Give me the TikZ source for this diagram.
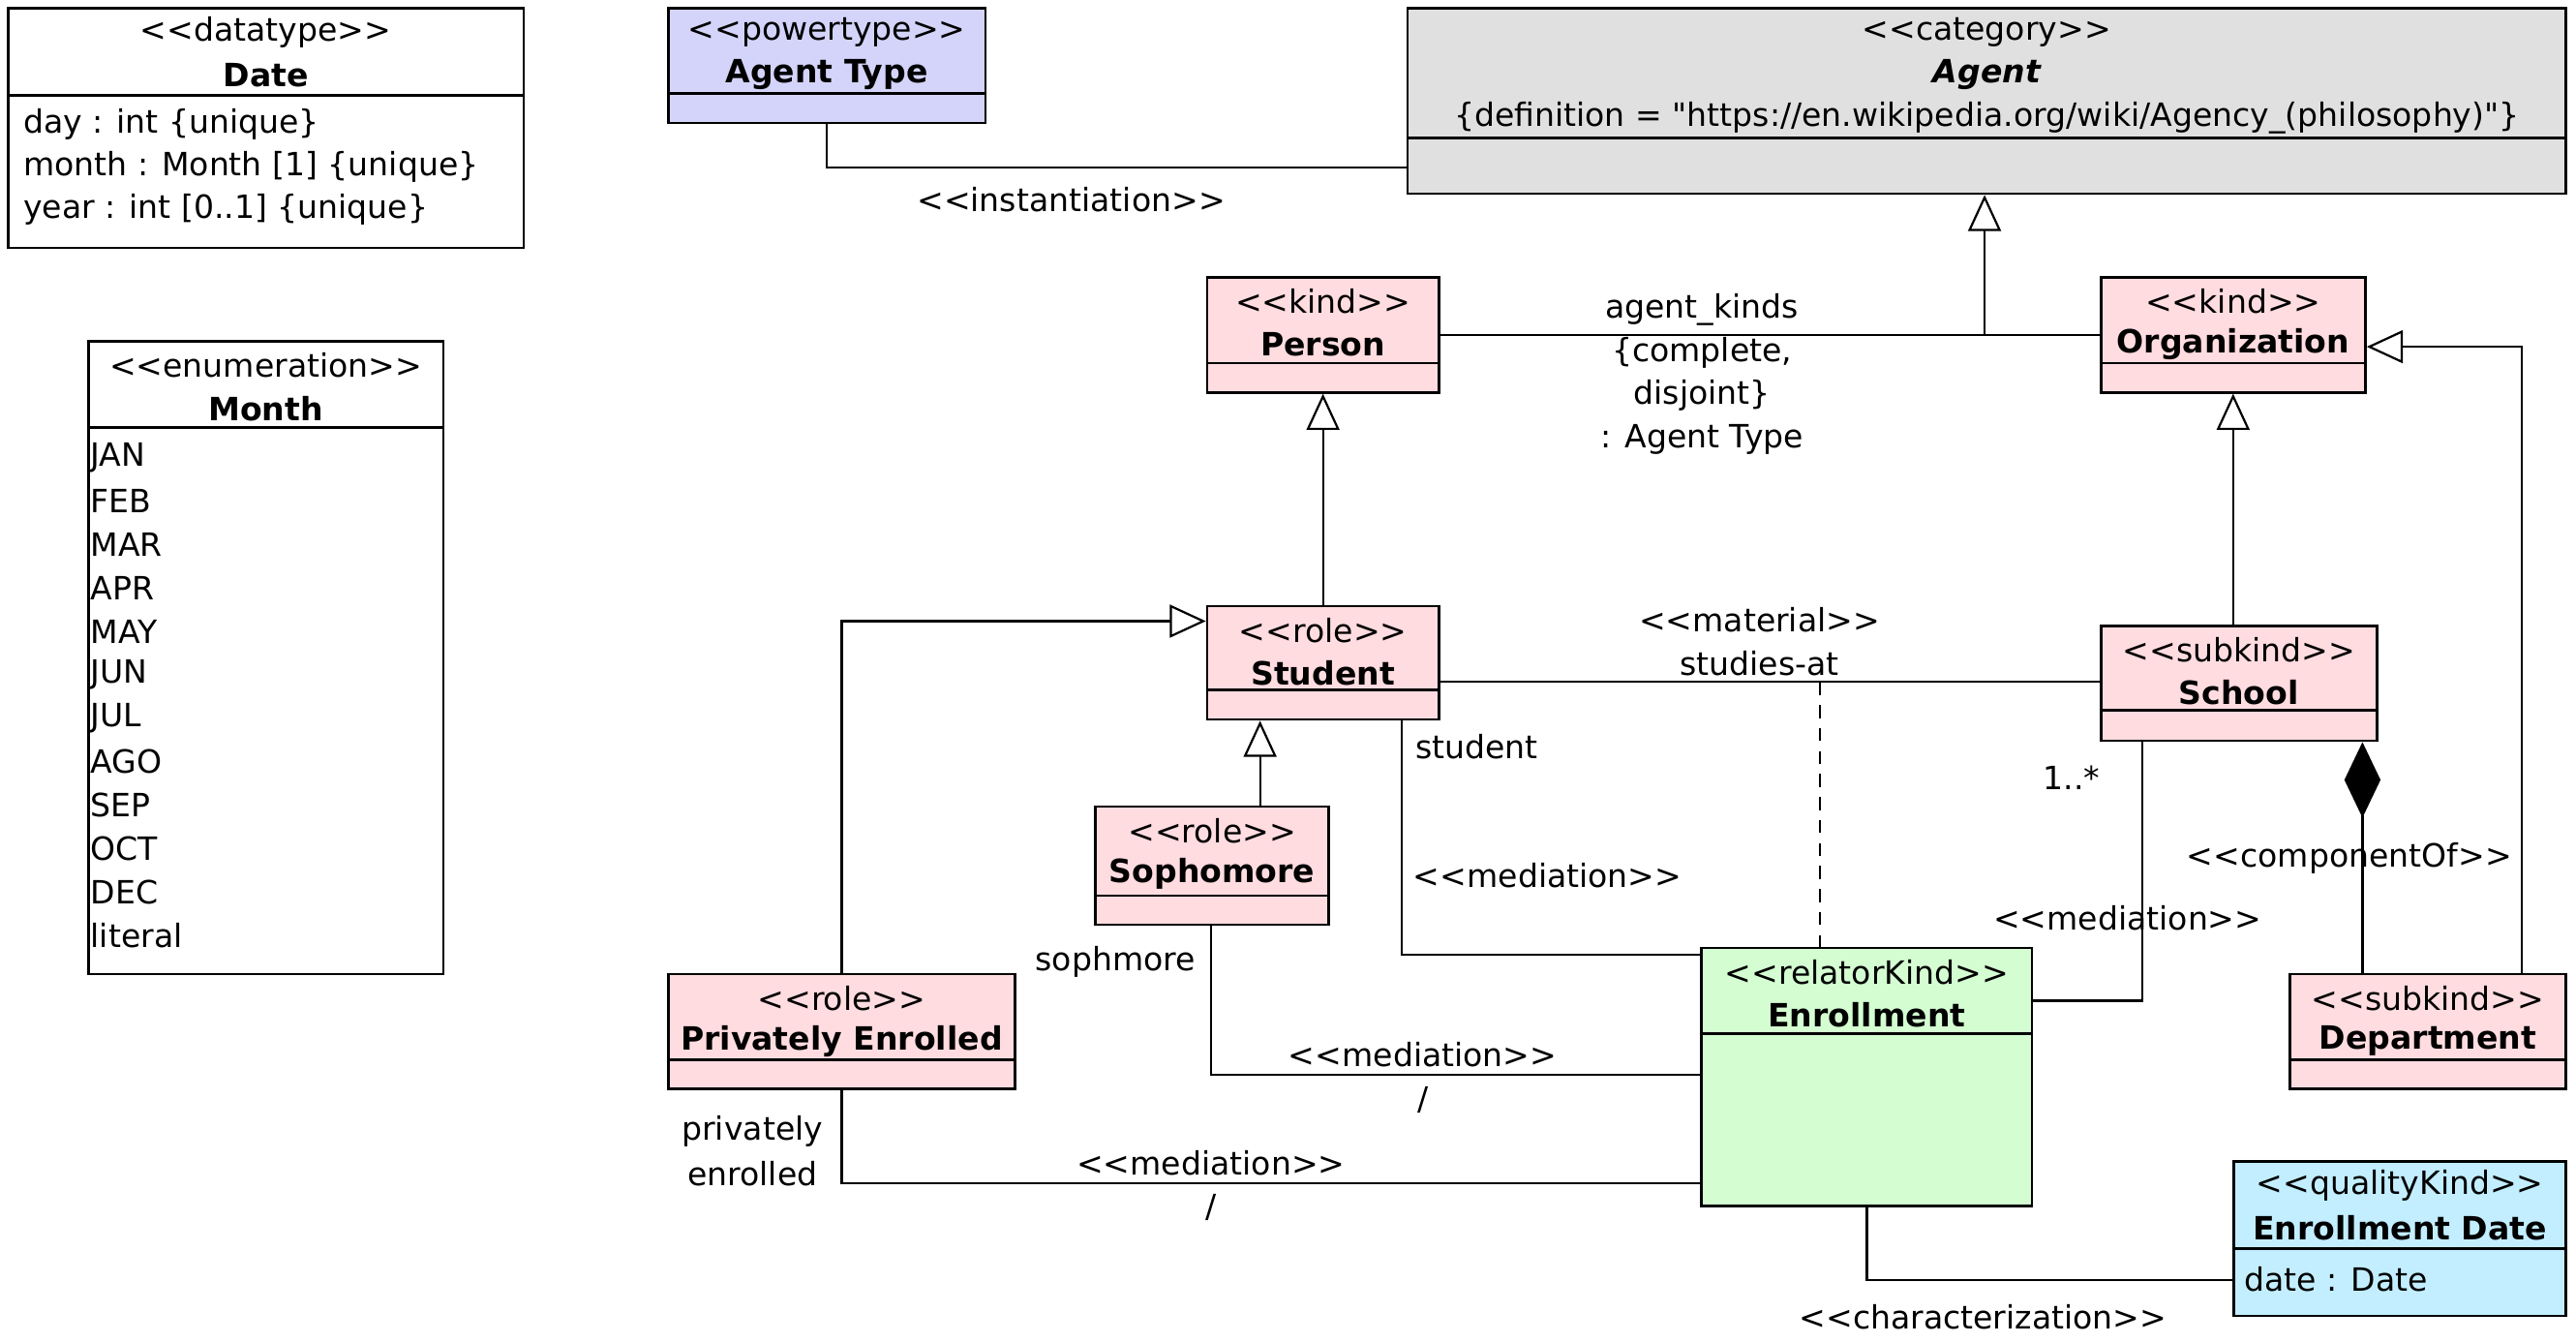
\documentclass[tikz,border=0pt]{standalone}
\usepackage{fontspec}
\newfontfamily\uf{DejaVu Sans}
\usetikzlibrary{arrows.meta,calc}
\definecolor{cpink}{HTML}{FFDCE0}
\definecolor{clav}{HTML}{D4D4FA}
\definecolor{cgray}{HTML}{E0E0E0}
\definecolor{cgreen}{HTML}{D4FED2}
\definecolor{cblue}{HTML}{C2EEFF}
\tikzset{
  txt/.style={font=\uf\fontsize{19.5}{23}\selectfont, inner sep=0pt, text=black, yshift=-1.5pt},
  btxt/.style={font=\uf\bfseries\fontsize{19.5}{23}\selectfont, inner sep=0pt, text=black, yshift=-1.5pt},
  itxt/.style={font=\uf\bfseries\itshape\fontsize{19.5}{23}\selectfont, inner sep=0pt, text=black, yshift=-1.5pt},
  ltxt/.style={txt, anchor=west},
  boxline/.style={line width=1.6pt, draw=black},
  conn/.style={line width=1.3pt, draw=black},
  gen/.style={conn, -{Triangle[open, length=22pt, width=20pt, fill=white]}},
  comp/.style={conn, {Diamond[length=46pt, width=22pt]}-},
  dep/.style={conn, dash pattern=on 8pt off 6pt},
}
\newcommand\umlbox[9]{%
  \node[boxline, fill=#7, minimum width=#4pt, minimum height=#5pt, anchor=north west, inner sep=0pt] (#1) at (#2,#3) {};
  \draw[boxline] ([yshift=-#6pt]#1.north west) -- ([yshift=-#6pt]#1.north east);
  \node[txt] (#1-st) at ([yshift=-14pt]#1.north) {<<#8>>};
  \node[btxt] (#1-nm) at ([yshift=-40pt]#1.north) {#9};
}
\begin{document}
\begin{tikzpicture}[x=1pt,y=-1pt]
\useasboundingbox (0,0) rectangle (1568,817);
\fill[white] (0,0) rectangle (1568,817);

% classes
\umlbox{date}{4}{4}{314}{146}{54}{white}{datatype}{Date}
\node[ltxt] (date-a1) at (14,74) {day : int \{unique\}};
\node[ltxt] (date-a2) at (14,100) {month : Month [1] \{unique\}};
\node[ltxt] (date-a3) at (14,126) {year : int [0..1] \{unique\}};

\umlbox{month}{53}{207}{216}{385}{53}{white}{enumeration}{Month}
\foreach \lit [count=\i from 0] in {JAN,FEB,MAR,APR,MAY,JUN,JUL,AGO,SEP,OCT,DEC,literal}
  \node[ltxt] (month-l\i) at (55,277+26.45*\i) {\lit};

\umlbox{agenttype}{406}{4}{193}{70}{53}{clav}{powertype}{Agent Type}

\node[boxline, fill=cgray, minimum width=705pt, minimum height=113pt, anchor=north west, inner sep=0pt] (agent) at (856,4) {};
\draw[boxline] ([yshift=-80pt]agent.north west) -- ([yshift=-80pt]agent.north east);
\node[txt] (agent-st) at ([yshift=-14pt]agent.north) {<<category>>};
\node[itxt] (agent-nm) at ([yshift=-40pt]agent.north) {Agent};
\node[txt] (agent-def) at ([yshift=-66pt]agent.north) {\{definition = "https://en.wikipedia.org/wiki/Agency\_(philosophy)"\}};

\umlbox{person}{734}{168}{141}{70}{53}{cpink}{kind}{Person}
\umlbox{org}{1278}{168}{161}{70}{53}{cpink}{kind}{Organization}
\umlbox{student}{734}{368}{141}{69}{52}{cpink}{role}{Student}
\umlbox{school}{1278}{380}{168}{70}{52}{cpink}{subkind}{School}
\umlbox{soph}{666}{490}{142}{72}{55}{cpink}{role}{Sophomore}
\umlbox{priv}{406}{592}{211}{70}{53}{cpink}{role}{Privately Enrolled}
\umlbox{enr}{1035}{576}{201}{157}{53}{cgreen}{relatorKind}{Enrollment}
\umlbox{dept}{1393}{592}{168}{70}{53}{cpink}{subkind}{Department}
\umlbox{edate}{1359}{706}{202}{94}{54}{cblue}{qualityKind}{Enrollment Date}
\node[ltxt] (edate-a1) at (1366,777) {date : Date};

% connectors
\draw[conn] (agenttype.south) |- (agent.west |- 0,102);
\node[txt] (l-inst) at (652,120) {<<instantiation>>};

\coordinate (gs) at (1208,204);
\draw[conn] (person.east |- gs) -- (org.west |- gs);
\draw[gen] (gs) -- (agent.south -| gs);
\node[txt] (l-gs1) at (1036,187) {agent\_kinds};
\node[txt] (l-gs2) at (1036,213) {\{complete,};
\node[txt] (l-gs3) at (1036,239) {disjoint\}};
\node[txt] (l-gs4) at (1036,266) {: Agent Type};

\draw[gen] (dept.north -| 1535,0) |- (org.east |- 0,211);
\draw[gen] (student.north) -- (person.south);
\draw[gen] (school.north -| org.south) -- (org.south);
\draw[gen] (soph.north -| 767,0) -- (student.south -| 767,0);
\draw[gen] (priv.north) |- (student.west |- 0,378);

\coordinate (mat) at (1108,415);
\draw[conn] (student.east |- mat) -- (school.west |- mat);
\draw[dep] (mat) -- (enr.north -| mat);
\node[txt] (l-mat1) at (1071,376) {<<material>>};
\node[txt] (l-mat2) at (1071,402) {studies-at};

\draw[conn] (student.south -| 853,0) |- (enr.west |- 0,581);
\node[txt] (l-stu) at (899,453) {student};
\node[txt] (l-med1) at (942,531) {<<mediation>>};

\draw[conn] (school.south -| 1304,0) |- (enr.east |- 0,609);
\node[txt] (l-mult) at (1261,472) {1..*};
\node[txt] (l-med2) at (1295,557) {<<mediation>>};

\draw[comp] (school.south -| 1438,0) -- (dept.north -| 1438,0);
\node[txt] (l-comp) at (1430,521) {<<componentOf>>};

\draw[conn] (soph.south -| 737,0) |- (enr.west |- 0,654);
\node[txt] (l-soph) at (679,584) {sophmore};
\node[txt] (l-med3) at (866,640) {<<mediation>>};
\node[txt] (l-sl1) at (866,668) {/};

\draw[conn] (priv.south) |- (enr.west |- 0,720);
\node[txt] (l-pr1) at (458,687) {privately};
\node[txt] (l-pr2) at (458,713) {enrolled};
\node[txt] (l-med4) at (737,706) {<<mediation>>};
\node[txt] (l-sl2) at (737,733) {/};

\draw[conn] (enr.south) |- (edate.west |- 0,779);
\node[txt] (l-char) at (1207,800) {<<characterization>>};
\end{tikzpicture}
\end{document}
